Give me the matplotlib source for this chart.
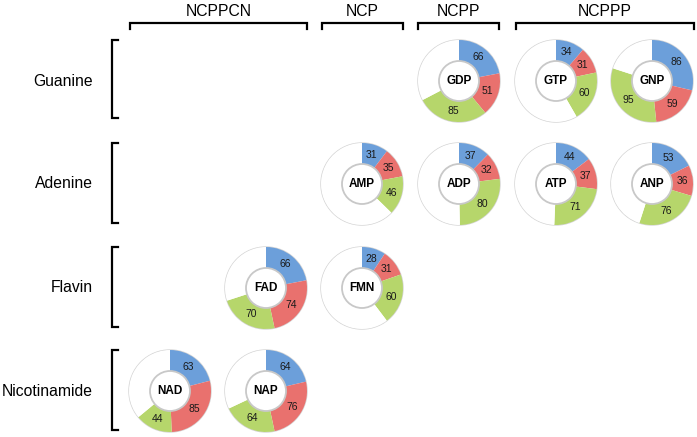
import matplotlib
matplotlib.use('Agg')
import numpy as np
import matplotlib.pyplot as plt
from matplotlib.patches import Circle

plt.rcParams['font.family'] = ['Liberation Sans', 'DejaVu Sans']

# data (each ring is out of 300)
names = ['GDP', 'GTP', 'GNP', 'AMP', 'ADP', 'ATP', 'ANP', 'FAD', 'FMN', 'NAD', 'NAP']
blue_vals = [66, 34, 86, 31, 37, 44, 53, 66, 28, 63, 64]
red_vals = [51, 31, 59, 35, 32, 37, 36, 74, 31, 85, 76]
green_vals = [85, 60, 95, 46, 80, 71, 76, 70, 60, 44, 64]
total = 300

row_labels = ['Guanine', 'Adenine', 'Flavin', 'Nicotinamide']
group_labels = ['NCPPCN', 'NCP', 'NCPP', 'NCPPP']

# grid position of every ring (row, column)
ring_row = [0, 0, 0, 1, 1, 1, 1, 2, 2, 3, 3]
ring_col = [3, 4, 5, 2, 3, 4, 5, 1, 2, 0, 1]

# layout (pixels, measured from the top-left of the picture)
W, H = 697, 437
col_x = [170, 266, 362, 459, 556, 652]
row_y = [81, 184, 288, 391]
R_out, R_in = 41, 20
group_span = [(130, 307), (322, 403), (418, 499), (516, 694)]
row_span = [(40, 118), (143, 223), (247, 327), (350, 430)]

colors = ['#6C9FDA', '#E9716E', '#B6D66B', 'white']

fig = plt.figure(figsize=(W / 100, H / 100), dpi=100)
ax = fig.add_axes([0, 0, 1, 1])


def Y(v):
    return H - v


for i, name in enumerate(names):
    cx, cy = col_x[ring_col[i]], Y(row_y[ring_row[i]])
    vals = [blue_vals[i], red_vals[i], green_vals[i]]
    rest = total - sum(vals)
    ax.add_patch(Circle((cx, cy), R_out, fill=False, edgecolor='#d4d4d4', lw=1.0, zorder=1))
    wedges, _ = ax.pie(vals + [rest], colors=colors, startangle=90, counterclock=False,
                       center=(cx, cy), radius=R_out,
                       wedgeprops=dict(width=R_out - R_in, edgecolor='none', linewidth=0))
    for w in wedges:
        w.set_zorder(2)
    ax.add_patch(Circle((cx, cy), R_in, facecolor='white', edgecolor='#c8c8c8', lw=1.3, zorder=3))
    for w, v in zip(wedges[:3], vals):
        ang = np.deg2rad((w.theta1 + w.theta2) / 2)
        r = (R_out + R_in) / 2
        ax.text(cx + r * np.cos(ang), cy + r * np.sin(ang), str(v), ha='center', va='center',
                fontsize=7.5, color='#1a1a1a', zorder=4)
    ax.text(cx, cy, name, ha='center', va='center', fontsize=8.5, fontweight='bold', zorder=4)

# row brackets and labels
for lab, (y0, y1), yc in zip(row_labels, row_span, row_y):
    ax.plot([118, 112, 112, 118], [Y(y0), Y(y0), Y(y1), Y(y1)], color='black', lw=1.6,
            solid_joinstyle='miter')
    ax.text(93, Y(yc), lab, ha='right', va='center', fontsize=11.3)

# column group brackets and labels
for lab, (x0, x1) in zip(group_labels, group_span):
    ax.plot([x0, x0, x1, x1], [Y(29), Y(23), Y(23), Y(29)], color='black', lw=1.6,
            solid_joinstyle='miter')
    ax.text((x0 + x1) / 2, Y(11), lab, ha='center', va='center', fontsize=11.3)

ax.set_xlim(0, W)
ax.set_ylim(0, H)
ax.set_aspect('auto')
ax.axis('off')

fig.savefig('out.png', dpi=100, facecolor='white')
